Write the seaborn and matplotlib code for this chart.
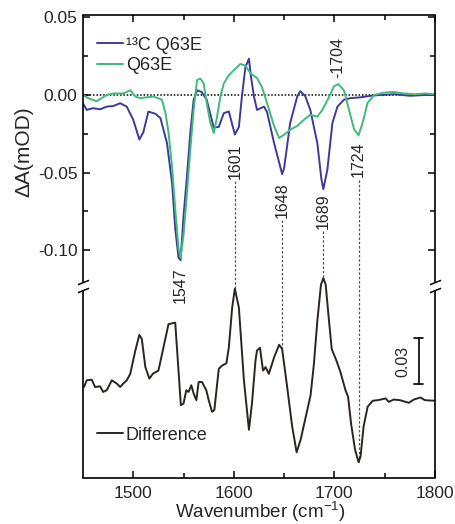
import numpy as np
import pandas as pd
import matplotlib
matplotlib.use("Agg")
import matplotlib.pyplot as plt
import seaborn as sns

# FTIR difference spectra (ΔA, mOD) versus wavenumber (cm-1)
wn_13c = [1450, 1453.7, 1460, 1467, 1473.6, 1480, 1487, 1493.5, 1500, 1506,
          1510, 1515, 1522, 1527, 1533.5, 1538.5, 1541.7, 1545, 1547, 1550,
          1553.4, 1556.7, 1560, 1563.4, 1568, 1573, 1580, 1585, 1590, 1595,
          1601, 1605, 1608, 1611.5, 1615, 1617, 1620, 1623, 1630, 1633,
          1640, 1648, 1650, 1656, 1663, 1666, 1671, 1676, 1683, 1687,
          1689, 1693, 1698, 1703, 1709.5, 1716, 1726, 1736, 1745, 1760,
          1775, 1790, 1800]
a_13c = [-0.0055, -0.0096, -0.0085, -0.0092, -0.0075, -0.0071, -0.0053, -0.0075, -0.016, -0.0287,
         -0.024, -0.0107, -0.0121, -0.0149, -0.031, -0.0564, -0.086, -0.105, -0.1065, -0.078,
         -0.052, -0.0245, -0.0032, 0.003, 0.002, -0.003, -0.021, -0.0206, -0.0117, -0.0106,
         -0.0255, -0.0206, -0.001, 0.018, 0.0234, 0.012, -0.001, -0.0096, -0.0075, -0.011,
         -0.031, -0.051, -0.047, -0.018, -0.001, 0.0025, -0.0007, -0.0096, -0.031, -0.054,
         -0.0607, -0.048, -0.018, -0.0075, -0.003, -0.002, -0.0015, -0.0005, 0.0, 0.0005,
         -0.0005, 0.0, 0.0]

wn_wt = [1450, 1455, 1463.6, 1473.6, 1480, 1490, 1497, 1502, 1507, 1513,
         1520, 1528.5, 1532, 1535, 1538.5, 1541.7, 1545, 1547, 1550, 1553.4,
         1556.7, 1560, 1563.4, 1566.6, 1570, 1573, 1576.6, 1580, 1583, 1586.6,
         1590, 1595, 1600, 1606.5, 1611.5, 1616.5, 1623, 1628, 1633, 1640,
         1645, 1650, 1656, 1663, 1669.6, 1676, 1683, 1688, 1694.5, 1699.6,
         1704, 1709.5, 1714.5, 1719.5, 1724, 1728, 1733, 1739.5, 1749, 1759,
         1769, 1780, 1790, 1800]
a_wt = [0.0, -0.002, -0.004, 0.0, 0.001, 0.001, 0.003, -0.001, -0.002, -0.0015,
        -0.001, -0.003, -0.0117, -0.024, -0.046, -0.0734, -0.099, -0.105, -0.090, -0.063,
        -0.035, -0.0096, 0.0096, 0.0106, 0.0075, -0.005, -0.018, -0.0245, -0.015, -0.001,
        0.0075, 0.0128, 0.016, 0.020, 0.019, 0.014, 0.011, 0.005, -0.0053, -0.020,
        -0.0277, -0.0256, -0.0224, -0.020, -0.016, -0.0128, -0.014, -0.0096, -0.0015, 0.0057,
        0.007, 0.003, -0.0096, -0.022, -0.026, -0.018, -0.005, 0.0, 0.0015, 0.002,
        0.001, 0.0005, 0.001, 0.0005]

wn_diff = [1451, 1453.7, 1458.7, 1462, 1467, 1470, 1473.6, 1478.6, 1483.6, 1487,
           1490, 1493.5, 1497, 1502, 1506, 1508.5, 1512, 1516, 1519.4, 1525,
           1530, 1535, 1541.7, 1543.4, 1547.3, 1550, 1552.7, 1555, 1557.7, 1560,
           1562.7, 1565, 1568.3, 1572.6, 1575, 1578.3, 1580.6, 1585, 1588.3, 1592.6,
           1595, 1598.3, 1601, 1605, 1610, 1615, 1618, 1621.5, 1623, 1626,
           1629, 1631.5, 1634.8, 1640, 1645, 1648, 1653, 1658, 1662.4, 1666.4,
           1671.5, 1676.3, 1679.6, 1683, 1686.6, 1689, 1691.3, 1694.6, 1697.3, 1702,
           1706, 1711, 1713.6, 1716.5, 1720.5, 1724, 1726, 1729, 1733, 1738,
           1743, 1751, 1754, 1759, 1765, 1774, 1779, 1785.5, 1790, 1800]
a_diff = [0.0085, 0.0128, 0.0132, 0.0085, 0.0089, 0.0053, 0.0064, 0.0128, 0.0107, 0.0085,
          0.0107, 0.0128, 0.0170, 0.0319, 0.0421, 0.0394, 0.0213, 0.0139, 0.0170, 0.0191,
          0.0340, 0.0490, 0.0500, 0.0340, -0.0032, -0.0021, 0.0064, 0.0053, 0.0096, 0.0043,
          0.0, 0.0117, 0.0117, 0.0064, 0.0, -0.0075, -0.0064, 0.0202, 0.0223, 0.0238,
          0.0340, 0.0596, 0.0719, 0.0596, 0.0128, -0.0191, -0.0021, 0.0255, 0.0320, 0.0338,
          0.0191, 0.0213, 0.0170, 0.0276, 0.0357, 0.0330, 0.0085, -0.0170, -0.0336, -0.0255,
          -0.0107, 0.0032, 0.0234, 0.0511, 0.0745, 0.0787, 0.0745, 0.0511, 0.0330, 0.0255,
          0.0181, 0.0064, 0.0021, -0.0149, -0.0319, -0.0400, -0.0362, -0.0170, -0.0043, -0.0004,
          0.0, 0.0011, -0.0011, 0.0004, 0.0, -0.0017, 0.0004, 0.0017, 0.0, -0.0004]

# vertical offset of the difference trace below the upper panel
diff_offset = -0.1968

# peak annotations: (wavenumber, label, top of label in data units)
peak_pos = [1547, 1601, 1648, 1689, 1724]
peak_text = ["1547", "1601", "1648", "1689", "1724"]
peak_top = [-0.111, -0.031, -0.0561, -0.0632, -0.0303]
dashed_peaks = [1601, 1648, 1689, 1724]

sns.set_style("white")
plt.rcParams.update({
    "font.family": ["Liberation Sans", "DejaVu Sans"],
    "mathtext.fontset": "custom",
    "mathtext.rm": "Liberation Sans",
    "mathtext.it": "Liberation Sans:italic",
    "mathtext.bf": "Liberation Sans:bold",
    "axes.unicode_minus": False,
})

BLUE = "#3d3b98"
GREEN = "#3fba7a"
DARK = "#2b2522"

fig = plt.figure(figsize=(4.55, 5.24), dpi=100)
ax = fig.add_axes([83 / 455, 1 - 478 / 524, 352 / 455, 463 / 524])

df_13c = pd.DataFrame({"wn": wn_13c, "dA": a_13c})
df_wt = pd.DataFrame({"wn": wn_wt, "dA": a_wt})
df_diff = pd.DataFrame({"wn": wn_diff, "dA": np.array(a_diff) + diff_offset})

sns.lineplot(data=df_13c, x="wn", y="dA", ax=ax, color=BLUE, lw=1.4,
             label="\u00b9\u00b3C Q63E", sort=False)
sns.lineplot(data=df_wt, x="wn", y="dA", ax=ax, color=GREEN, lw=1.4,
             label="Q63E", sort=False)
diff_line = sns.lineplot(data=df_diff, x="wn", y="dA", ax=ax, color=DARK,
                         lw=1.4, sort=False, legend=False).lines[-1]

ax.axhline(0, color="black", lw=1.1, ls=(0, (1, 1.2)), zorder=1)

ylo, yhi = -0.247, 0.0516
brk_hi, brk_lo = -0.1205, -0.1258
ax.set_xlim(1450, 1800)
ax.set_ylim(ylo, yhi)

# peak labels and dashed guides down to the difference trace
for pos, txt, top in zip(peak_pos, peak_text, peak_top):
    ax.text(pos, top, txt, rotation=90, ha="center", va="top", fontsize=11.5)
    if pos in dashed_peaks:
        y_end = np.interp(pos, wn_diff, a_diff) + diff_offset
        ax.plot([pos, pos], [top - 0.0245, y_end], color="#555555", lw=0.9,
                ls=(0, (2, 1.5)), zorder=1)
ax.text(1703, 0.011, "-1704", rotation=90, ha="center", va="bottom", fontsize=11.5)

# scale bar for the difference trace
bar_x, bar_top = 1783.7, -0.1566
ax.plot([bar_x, bar_x], [bar_top, bar_top - 0.03], color="black", lw=1.2)
for yb in (bar_top, bar_top - 0.03):
    ax.plot([bar_x - 4.5, bar_x + 4.5], [yb, yb], color="black", lw=1.2)
ax.text(1768, bar_top - 0.015, "0.03", rotation=90, ha="center", va="center",
        fontsize=11.5)

# broken left/right spines
for s in ("left", "right"):
    ax.spines[s].set_visible(False)
for s in ("top", "bottom"):
    ax.spines[s].set_linewidth(1.2)
    ax.spines[s].set_color("black")
tr = ax.get_yaxis_transform()
for xa in (0, 1):
    ax.plot([xa, xa], [brk_hi, yhi], color="black", lw=1.2, transform=tr,
            clip_on=False, solid_capstyle="butt")
    ax.plot([xa, xa], [ylo, brk_lo], color="black", lw=1.2, transform=tr,
            clip_on=False, solid_capstyle="butt")
    ax.plot([xa, xa], [brk_hi, brk_lo], transform=tr, marker=[(-1, -0.4), (1, 0.4)],
            markersize=8, linestyle="none", color="black", mec="black", mew=1.1,
            clip_on=False)

# ticks
ax.set_xticks([1500, 1600, 1700, 1800])
ax.set_xticks([1550, 1650, 1750], minor=True)
ax.set_yticks([0.05, 0.0, -0.05, -0.10])
ax.set_yticks([0.025, -0.025, -0.075], minor=True)
ax.set_yticklabels(["0.05", "0.00", "-0.05", "-0.10"])
ax.tick_params(which="both", direction="in", top=True, right=True,
               left=True, bottom=True, labelsize=12.5, width=1.1, color="black")
ax.tick_params(which="major", length=5)
ax.tick_params(which="minor", length=3.5)
ax.tick_params(axis="x", pad=6)
ax.tick_params(axis="y", pad=4)

ax.set_xlabel("")
ax.set_ylabel("")
fig.text(260 / 455, 1 - 518 / 524, "Wavenumber (cm$^{-1}$)", ha="center",
         va="baseline", fontsize=13.5)
fig.text(24 / 455, 1 - 152 / 524, "\u0394A(mOD)", rotation=90, ha="center",
         va="center", fontsize=15)

leg1 = ax.legend(loc="upper left", bbox_to_anchor=(0.04, 0.953), frameon=False,
                 fontsize=13, handlelength=1.45, handletextpad=0.15,
                 labelspacing=0.2, borderpad=0, borderaxespad=0)
ax.add_artist(leg1)
ax.legend([diff_line], ["Difference"], loc="center left",
          bbox_to_anchor=(0.04, (-0.2194 - ylo) / (yhi - ylo)), frameon=False,
          fontsize=13, handlelength=1.45, handletextpad=0.15, borderpad=0,
          borderaxespad=0)

fig.savefig("out.png", dpi=100)
